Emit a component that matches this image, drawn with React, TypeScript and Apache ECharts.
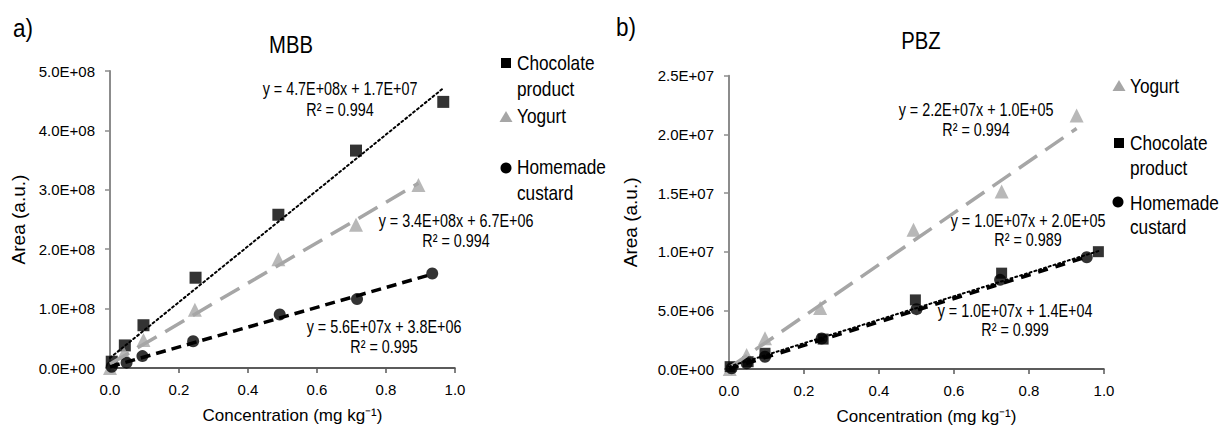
import React, { useEffect, useRef } from "react";
import * as echarts from "echarts";

const FONT = "'Liberation Sans', Arial, sans-serif";
const BLACK = "#000000";
const GRAY = "#a6a6a6";

// MBB (panel a)
const mbbChocolateX = [0.005, 0.043, 0.097, 0.248, 0.488, 0.713, 0.966];
const mbbChocolateY = [1.06e7, 3.8e7, 7.2e7, 1.52e8, 2.58e8, 3.66e8, 4.48e8];
const mbbYogurtX = [0.0, 0.04, 0.097, 0.246, 0.488, 0.713, 0.894];
const mbbYogurtY = [0.0, 2.5e7, 4.7e7, 9.8e7, 1.83e8, 2.41e8, 3.08e8];
const mbbCustardX = [0.005, 0.048, 0.094, 0.241, 0.492, 0.716, 0.934];
const mbbCustardY = [2.0e6, 9.0e6, 2.0e7, 4.5e7, 9.0e7, 1.16e8, 1.59e8];
// trendline end points as drawn in the picture
const mbbChocolateTrend = [[0, 1.7e7], [0.966, 4.71e8]];
const mbbYogurtTrend = [[0, 6.7e6], [0.894, 3.11e8]];
const mbbCustardTrend = [[0, 2.0e6], [0.934, 1.58e8]];
const mbbEquations = ["y = 4.7E+08x + 1.7E+07\nR² = 0.994", "y = 3.4E+08x + 6.7E+06\nR² = 0.994", "y = 5.6E+07x + 3.8E+06\nR² = 0.995"];

// PBZ (panel b)
const pbzYogurtX = [0.002, 0.047, 0.096, 0.243, 0.492, 0.727, 0.927];
const pbzYogurtY = [0.0, 1.19e6, 2.62e6, 5.2e6, 1.186e7, 1.513e7, 2.16e7];
const pbzChocolateX = [0.003, 0.051, 0.096, 0.251, 0.497, 0.727, 0.985];
const pbzChocolateY = [2.0e5, 6.2e5, 1.34e6, 2.55e6, 5.89e6, 8.17e6, 1.0e7];
const pbzCustardX = [0.007, 0.047, 0.096, 0.247, 0.5, 0.723, 0.954];
const pbzCustardY = [6.0e4, 4.9e5, 1.05e6, 2.6e6, 5.1e6, 7.6e6, 9.53e6];
const pbzYogurtTrend = [[0, 1.0e5], [0.927, 2.05e7]];
const pbzChocolateTrend = [[0, 2.0e5], [0.985, 1.005e7]];
const pbzCustardTrend = [[0, 1.4e4], [0.954, 9.55e6]];
const pbzEquations = ["y = 2.2E+07x + 1.0E+05\nR² = 0.994", "y = 1.0E+07x + 2.0E+05\nR² = 0.989", "y = 1.0E+07x + 1.4E+04\nR² = 0.999"];

const xTicks = { min: 0, max: 1, interval: 0.2 };
const mbbYTicks = { min: 0, max: 5e8, interval: 1e8 };
const pbzYTicks = { min: 0, max: 2.5e7, interval: 5e6 };

const zip = (xs: number[], ys: number[]) => xs.map((x, i) => [x, ys[i]]);

const sciFmt = (v: number) => {
  const [mant, e] = v.toExponential(1).split("e");
  const n = parseInt(e, 10);
  return mant + "E" + (n < 0 ? "-" : "+") + String(Math.abs(n)).padStart(2, "0");
};

function makeX(gridIndex: number) {
  return {
    type: "value",
    gridIndex,
    ...xTicks,
    name: "Concentration (mg kg⁻¹)",
    nameLocation: "middle",
    nameGap: 39,
    nameTextStyle: { fontFamily: FONT, fontSize: 17, color: BLACK, padding: [0, 0, 0, 20] },
    axisLine: { show: true, onZero: false, lineStyle: { color: "#262626", width: 1.5 } },
    axisTick: { show: true, length: 5, lineStyle: { color: "#595959", width: 1.5 } },
    axisLabel: { fontFamily: FONT, fontSize: 15, color: BLACK, margin: 14, formatter: (v: number) => v.toFixed(1) },
    splitLine: { show: false },
  };
}

function makeY(gridIndex: number, ticks: any, gap: number) {
  return {
    type: "value",
    gridIndex,
    ...ticks,
    name: "Area (a.u.)",
    nameLocation: "middle",
    nameGap: gap,
    nameTextStyle: { fontFamily: FONT, fontSize: 19, color: BLACK },
    axisLine: { show: true, lineStyle: { color: "#8c8c8c", width: 2 } },
    axisTick: { show: true, length: 5, lineStyle: { color: "#8c8c8c", width: 1.5 } },
    axisLabel: { fontFamily: FONT, fontSize: 15, color: BLACK, margin: 15, formatter: sciFmt },
    splitLine: { show: false },
  };
}

function scatter(name: string, idx: number, data: number[][], symbol: string, color: string, size: number) {
  return {
    name,
    type: "scatter",
    xAxisIndex: idx,
    yAxisIndex: idx,
    data,
    symbol,
    symbolSize: size,
    itemStyle: { color },
    z: 3,
  };
}

function trendSeries(name: string, idx: number, data: number[][], color: string, width: number, dash: number[], cap = "butt") {
  return {
    name,
    type: "line",
    xAxisIndex: idx,
    yAxisIndex: idx,
    data,
    showSymbol: false,
    symbol: "none",
    lineStyle: { color, width, type: dash, cap },
    silent: true,
    z: 4,
  };
}

function textEl(text: string, x: number, y: number, size: number, align = "center", lineHeight = 20, sx = 0.82) {
  return {
    type: "text",
    x,
    y,
    scaleX: sx,
    style: {
      text,
      fontFamily: FONT,
      fontSize: size,
      fill: BLACK,
      align,
      verticalAlign: "top",
      lineHeight,
    },
  };
}

function legendMarker(kind: string, cx: number, cy: number, color: string) {
  if (kind === "rect") return { type: "rect", shape: { x: cx - 5, y: cy - 5, width: 10, height: 10 }, style: { fill: color } };
  if (kind === "circle") return { type: "circle", shape: { cx, cy, r: 5.5 }, style: { fill: color } };
  return { type: "polygon", shape: { points: [[cx, cy - 6], [cx + 6.5, cy + 5], [cx - 6.5, cy + 5]] }, style: { fill: color } };
}

export default function App() {
  const ref = useRef<HTMLDivElement>(null);
  useEffect(() => {
    if (!ref.current) return;
    const chart = echarts.init(ref.current, null, { renderer: "svg" });
    const option: any = {
      animation: false,
      backgroundColor: "#ffffff",
      grid: [
        { left: 110, top: 71, width: 345, height: 297 },
        { left: 729, top: 75.7, width: 375, height: 293.3 },
      ],
      xAxis: [makeX(0), makeX(1)],
      yAxis: [makeY(0, mbbYTicks, 82), makeY(1, pbzYTicks, 89)],
      series: [
        scatter("Chocolate product", 0, zip(mbbChocolateX, mbbChocolateY), "rect", BLACK, 12),
        scatter("Yogurt", 0, zip(mbbYogurtX, mbbYogurtY), "triangle", GRAY, 14),
        scatter("Homemade custard", 0, zip(mbbCustardX, mbbCustardY), "circle", BLACK, 12),
        trendSeries("Chocolate product trend", 0, mbbChocolateTrend, BLACK, 2, [2, 3], "round"),
        trendSeries("Yogurt trend", 0, mbbYogurtTrend, GRAY, 3.5, [22, 10]),
        trendSeries("Homemade custard trend", 0, mbbCustardTrend, BLACK, 3.5, [10, 6]),

        scatter("Yogurt", 1, zip(pbzYogurtX, pbzYogurtY), "triangle", GRAY, 14),
        scatter("Chocolate product", 1, zip(pbzChocolateX, pbzChocolateY), "rect", BLACK, 11),
        scatter("Homemade custard", 1, zip(pbzCustardX, pbzCustardY), "circle", BLACK, 12),
        trendSeries("Yogurt trend", 1, pbzYogurtTrend, GRAY, 3.5, [22, 10]),
        trendSeries("Homemade custard trend", 1, pbzCustardTrend, BLACK, 3.5, [10, 8]),
        trendSeries("Chocolate product trend", 1, pbzChocolateTrend, BLACK, 2, [2, 3], "round"),
      ],
      graphic: [
        textEl("a)", 23, 14, 25, "center", 28, 0.9),
        textEl("b)", 626, 13, 25, "center", 28, 0.9),
        textEl("MBB", 291, 32, 23, "center", 26, 0.88),
        textEl("PBZ", 921, 28, 23, "center", 26, 0.88),
        // equations
        textEl(mbbEquations[0], 340, 78, 17.5, "center", 21),
        textEl(mbbEquations[1], 456, 211, 17.5, "center", 20),
        textEl(mbbEquations[2], 384, 317, 17.5, "center", 20),
        textEl(pbzEquations[0], 976, 100, 17.5, "center", 20),
        textEl(pbzEquations[1], 1028, 211, 17.5, "center", 19.5),
        textEl(pbzEquations[2], 1015, 302, 17.5, "center", 18.5),
        // legend a
        legendMarker("rect", 506, 63, BLACK),
        textEl("Chocolate\nproduct", 517, 50, 21, "left", 26),
        legendMarker("triangle", 506, 117, GRAY),
        textEl("Yogurt", 517, 103, 21, "left", 26),
        legendMarker("circle", 506, 168, BLACK),
        textEl("Homemade\ncustard", 517, 154, 21, "left", 26),
        // legend b
        legendMarker("triangle", 1119, 86, GRAY),
        textEl("Yogurt", 1130, 73, 21, "left", 26),
        legendMarker("rect", 1119, 143, BLACK),
        textEl("Chocolate\nproduct", 1130, 130.5, 21, "left", 25),
        legendMarker("circle", 1118, 202, BLACK),
        textEl("Homemade\ncustard", 1130, 190.5, 21, "left", 24),
      ],
    };
    chart.setOption(option);
    return () => chart.dispose();
  }, []);
  return <div ref={ref} style={{ position: "fixed", left: 0, top: 0, width: 1223, height: 432 }} />;
}
